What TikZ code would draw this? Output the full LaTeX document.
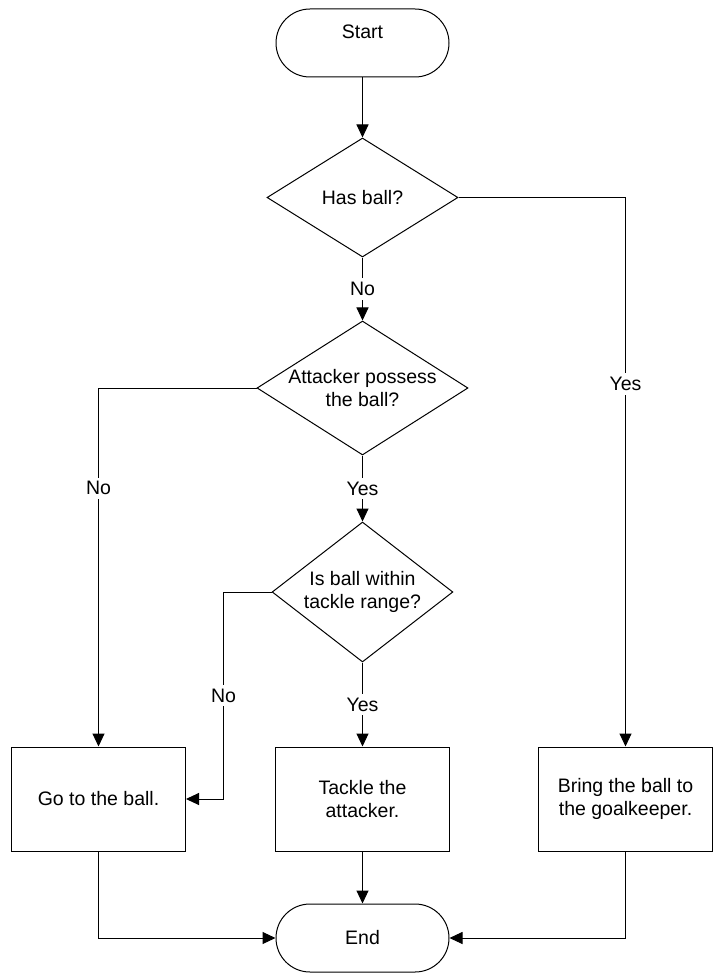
\documentclass[tikz,border=0pt]{standalone}
\usepackage{fontspec}
\setmainfont{Liberation Sans}
\usepackage{tikz}
\usetikzlibrary{arrows.meta,positioning,shapes.geometric}

\begin{document}
\begin{tikzpicture}[x=1pt,y=1pt,line width=1pt,font=\fontsize{19.5}{22.4}\selectfont,
      term/.style={draw,rounded corners=34pt,minimum width=173pt,minimum height=68pt,align=center},
      dec/.style={draw,diamond,aspect=1.57,inner sep=0pt,align=center},
      act/.style={draw,minimum width=174pt,minimum height=104pt,align=center},
      a/.style={-{Triangle[length=13pt,width=12pt]}},
      lbl/.style={fill=white,inner sep=4pt}]
      \useasboundingbox (0,0) rectangle (714,-976);
      \node[term,text depth=22pt] (start) at (362.5,-43) {Start};
      \node[dec,minimum width=191pt,minimum height=119pt,below=60pt of start] (has) {Has ball?};
      \node[dec,minimum width=211pt,minimum height=134pt,below=63pt of has] (att) {Attacker possess\\the ball?};
      \node[dec,minimum width=180pt,minimum height=140pt,below=66pt of att] (rng) {Is ball within\\tackle range?};
      \node[act,below=84pt of rng] (tk) {Tackle the\\attacker.};
      \node[act,left=89pt of tk] (go) {Go to the ball.};
      \node[act,right=88pt of tk] (br) {Bring the ball to\\the goalkeeper.};
      \node[term,below=52pt of tk] (end) {End};
      \coordinate[left=48pt of rng.west] (rngl);
      \draw[a] (start)--(has);
      \draw[a] (has)--node[lbl] {No} (att);
      \draw[a] (has.east)-|node[lbl,pos=0.67] {Yes} (br);
      \draw[a] (att.west)-|node[lbl,pos=0.64] {No} (go);
      \draw[a] (att)--node[lbl] {Yes} (rng);
      \draw[a] (rng.west)--(rngl)|-node[lbl,pos=0.25] {No} (go.east);
      \draw[a] (rng)--node[lbl] {Yes} (tk);
      \draw[a] (go)|-(end); \draw[a] (tk)--(end); \draw[a] (br)|-(end);
    \end{tikzpicture}
\end{document}
